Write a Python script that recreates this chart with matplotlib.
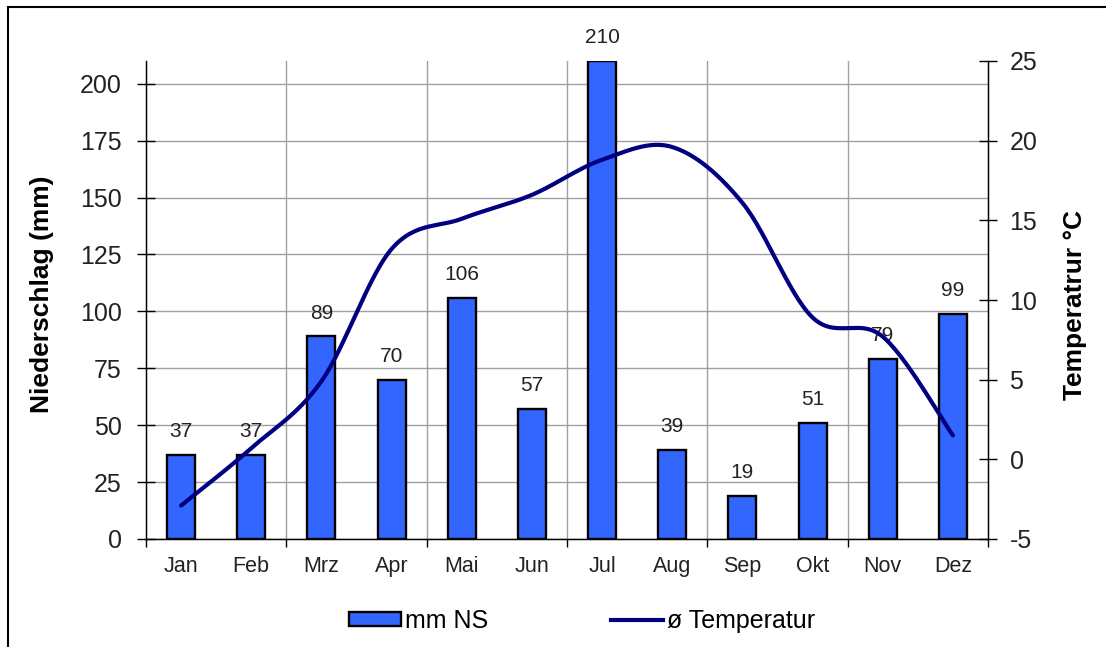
import numpy as np
import matplotlib
matplotlib.use('Agg')
import matplotlib.pyplot as plt
from matplotlib.patches import Rectangle, Patch
from matplotlib.lines import Line2D

plt.rcParams['font.family'] = ['Liberation Sans', 'DejaVu Sans']
plt.rcParams['axes.unicode_minus'] = False

months = ['Jan', 'Feb', 'Mrz', 'Apr', 'Mai', 'Jun', 'Jul', 'Aug', 'Sep', 'Okt', 'Nov', 'Dez']
niederschlag = [37, 37, 89, 70, 106, 57, 210, 39, 19, 51, 79, 99]
temperatur = [-2.9, 0.7, 4.9, 13.2, 15.1, 16.6, 18.8, 19.6, 16.1, 8.9, 7.7, 1.5]


# Catmull-Rom smoothing for the temperature curve
def smooth(xs, ys, n=30):
    p = np.column_stack([xs, ys]).astype(float)
    p = np.vstack([p[0], p, p[-1]])
    out = []
    for i in range(1, len(p) - 2):
        p0, p1, p2, p3 = p[i - 1], p[i], p[i + 1], p[i + 2]
        t = np.linspace(0, 1, n, endpoint=False)[:, None]
        seg = 0.5 * ((2 * p1) + (-p0 + p2) * t + (2 * p0 - 5 * p1 + 4 * p2 - p3) * t ** 2
                     + (-p0 + 3 * p1 - 3 * p2 + p3) * t ** 3)
        out.append(seg)
    out.append(p[-2][None, :])
    out = np.vstack(out)
    return out[:, 0], out[:, 1]


fig = plt.figure(figsize=(11.06, 6.47), dpi=100)
W, H = 1106, 647
ax = fig.add_axes([146 / W, 1 - 539 / H, (988 - 146) / W, (539 - 61) / H])
x = np.arange(len(months))

ax.set_axisbelow(True)
ax.bar(x, niederschlag, width=0.4, color='#3366FF', edgecolor='black', linewidth=1.7, zorder=2)
for xi, v in zip(x, niederschlag):
    ax.annotate(str(v), (xi, v), xytext=(0, 10), textcoords='offset points',
                ha='center', va='bottom', fontsize=15, color='#222222', zorder=5)

ax.set_xlim(-0.5, 11.5)
ax.set_ylim(0, 210)
ax.set_yticks(range(0, 201, 25))
ax.set_xticks(x)
ax.set_xticklabels(months)
ax.set_xticks(np.arange(-0.5, 12, 2), minor=True)
ax.tick_params(axis='x', which='major', length=0, pad=12, labelsize=15.5, labelcolor='#222222')
ax.tick_params(axis='x', which='minor', length=6, width=1, direction='out')
ax.tick_params(axis='y', length=13, width=1, direction='inout', pad=11, labelsize=18, labelcolor='#222222')
ax.yaxis.grid(True, color='#a0a0a0', linewidth=1)
for b in np.arange(1.5, 11, 2):
    ax.axvline(b, color='#a0a0a0', linewidth=1, zorder=0)
ax.spines['top'].set_visible(False)
for s in ['left', 'bottom', 'right']:
    ax.spines[s].set_linewidth(1)

ax2 = ax.twinx()
sx, sy = smooth(x, temperatur)
ax2.plot(sx, sy, color='#000080', linewidth=3, solid_capstyle='round', zorder=4)
ax2.set_ylim(-5, 25)
ax2.set_yticks(range(-5, 26, 5))
ax2.tick_params(axis='y', length=13, width=1, direction='inout', pad=9, labelsize=18, labelcolor='#222222')
ax2.spines['top'].set_visible(False)

fig.text(42 / W, 1 - 294 / H, 'Niederschlag (mm)', rotation=90, ha='center', va='center',
         fontsize=19, fontweight='bold')
fig.text(1075 / W, 1 - 305 / H, 'Temperatrur °C', rotation=90, ha='center', va='center',
         fontsize=19, fontweight='bold')

handles = [Patch(facecolor='#3366FF', edgecolor='black', linewidth=1.7),
           Line2D([0], [0], color='#000080', linewidth=3)]
fig.legend(handles, ['mm NS', 'ø Temperatur'], loc='center', ncol=2, frameon=False,
           bbox_to_anchor=(582 / W, 1 - 621 / H), fontsize=18, handlelength=2.1,
           handleheight=0.5, handletextpad=0.15, columnspacing=4.9)

fig.patches.append(Rectangle((8 / W, -0.1), 1.2, 1.1 - 7 / H, transform=fig.transFigure,
                             fill=False, edgecolor='black', linewidth=1.5))

fig.savefig('out.png', dpi=100)
